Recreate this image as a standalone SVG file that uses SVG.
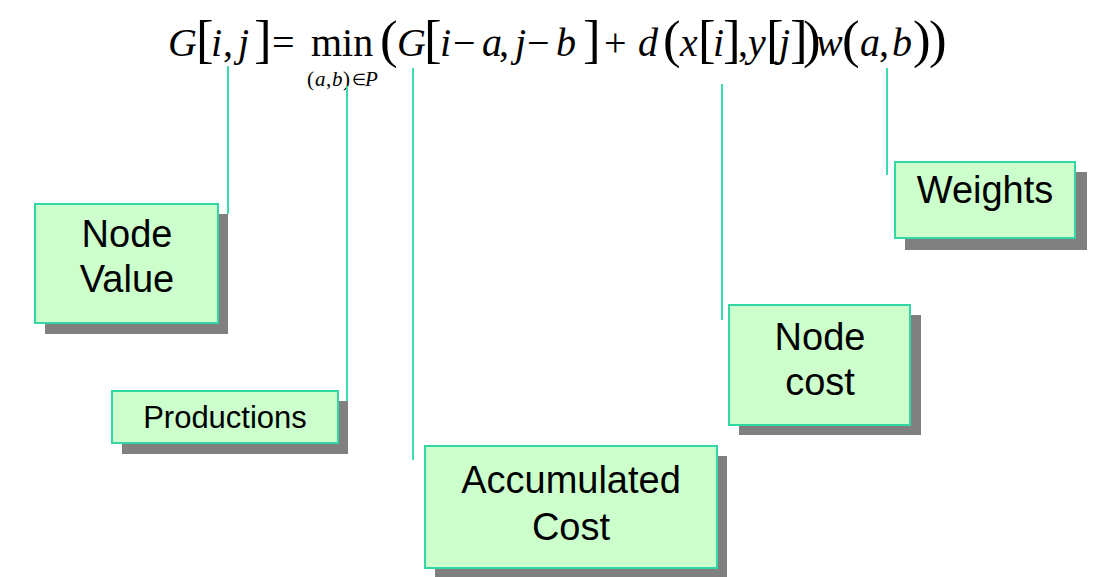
<svg xmlns="http://www.w3.org/2000/svg" width="1104" height="577" viewBox="0 0 1104 577">
<style>
.box{fill:#CCFFCC;stroke:#33D6A5;stroke-width:2}
.sh{fill:#808080}
.lbl{font-family:"Liberation Sans",Arial,sans-serif;font-size:38px;fill:#000;text-anchor:middle}
.conn{stroke:#3DDBB0;stroke-width:2;fill:none}
.f{font-family:"Liberation Serif","Times New Roman",serif;fill:#000}
.v{font-style:italic;font-size:40px}
.r{font-size:40px}
.br{font-size:53px}
.s{font-size:21px}
.si{font-size:21px;font-style:italic}
</style>
<rect width="1104" height="577" fill="#fff"/>
<g id="formula" class="f">
<text x="168" y="56" class="v">G</text>
<text x="196" y="57" class="br">[</text>
<text x="211" y="56" class="v">i</text>
<text x="223" y="56" class="r">,</text>
<text x="238" y="56" class="v">j</text>
<text x="254" y="57" class="br">]</text>
<text x="272" y="56" class="r">=</text>
<text x="311" y="56" class="r">min</text>
<text x="307" y="86" class="s">(</text>
<text x="315" y="86" class="si">a</text>
<text x="326" y="86" class="s">,</text>
<text x="332" y="86" class="si">b</text>
<text x="343" y="86" class="s">)</text>
<text x="352" y="85" style="font-size:16px">∈</text>
<text x="365" y="86" class="si">P</text>
<text x="380" y="57" class="br">(</text>
<text x="397" y="56" class="v">G</text>
<text x="424" y="57" class="br">[</text>
<text x="440" y="56" class="v">i</text>
<text x="453" y="56" class="r">−</text>
<text x="482" y="56" class="v">a</text>
<text x="499" y="56" class="r">,</text>
<text x="515" y="56" class="v">j</text>
<text x="527" y="56" class="r">−</text>
<text x="556" y="56" class="v">b</text>
<text x="583" y="57" class="br">]</text>
<text x="604" y="56" class="r">+</text>
<text x="638" y="56" class="v">d</text>
<text x="663" y="57" class="br">(</text>
<text x="680" y="56" class="v">x</text>
<text x="698" y="57" class="br">[</text>
<text x="713" y="56" class="v">i</text>
<text x="723" y="57" class="br">]</text>
<text x="738" y="56" class="r">,</text>
<text x="748" y="56" class="v">y</text>
<text x="766" y="57" class="br">[</text>
<text x="779" y="56" class="v">j</text>
<text x="790" y="57" class="br">]</text>
<text x="803" y="57" class="br">)</text>
<text x="816" y="56" class="v">w</text>
<text x="842" y="57" class="br">(</text>
<text x="860" y="56" class="v">a</text>
<text x="879" y="56" class="r">,</text>
<text x="892" y="56" class="v">b</text>
<text x="913" y="57" class="br">)</text>
<text x="929" y="57" class="br">)</text>
</g>
<g id="connectors">
<line class="conn" x1="228" y1="66" x2="228" y2="214"/>
<line class="conn" x1="347" y1="86" x2="347" y2="401"/>
<line class="conn" x1="413" y1="68" x2="413" y2="460"/>
<line class="conn" x1="722" y1="84" x2="722" y2="320"/>
<line class="conn" x1="887" y1="68" x2="887" y2="175"/>
</g>
<g id="node-value">
<rect class="sh" x="45" y="214" width="183" height="120"/>
<rect class="box" x="35" y="204" width="183" height="119"/>
<text class="lbl" x="127" y="247">Node</text>
<text class="lbl" x="127" y="292">Value</text>
</g>
<g id="productions">
<rect class="sh" x="122" y="401" width="226" height="53"/>
<rect class="box" x="112" y="391" width="226" height="52"/>
<text class="lbl" x="225" y="428" style="font-size:31px">Productions</text>
</g>
<g id="accumulated-cost">
<rect class="sh" x="435" y="456" width="292" height="122"/>
<rect class="box" x="425" y="446" width="292" height="122"/>
<text class="lbl" x="571" y="493">Accumulated</text>
<text class="lbl" x="571" y="540">Cost</text>
</g>
<g id="node-cost">
<rect class="sh" x="739" y="315" width="182" height="120"/>
<rect class="box" x="729" y="305" width="181" height="120"/>
<text class="lbl" x="820" y="350">Node</text>
<text class="lbl" x="820" y="395">cost</text>
</g>
<g id="weights">
<rect class="sh" x="905" y="172" width="182" height="78"/>
<rect class="box" x="895" y="162" width="180" height="76"/>
<text class="lbl" x="985" y="203">Weights</text>
</g>
</svg>
